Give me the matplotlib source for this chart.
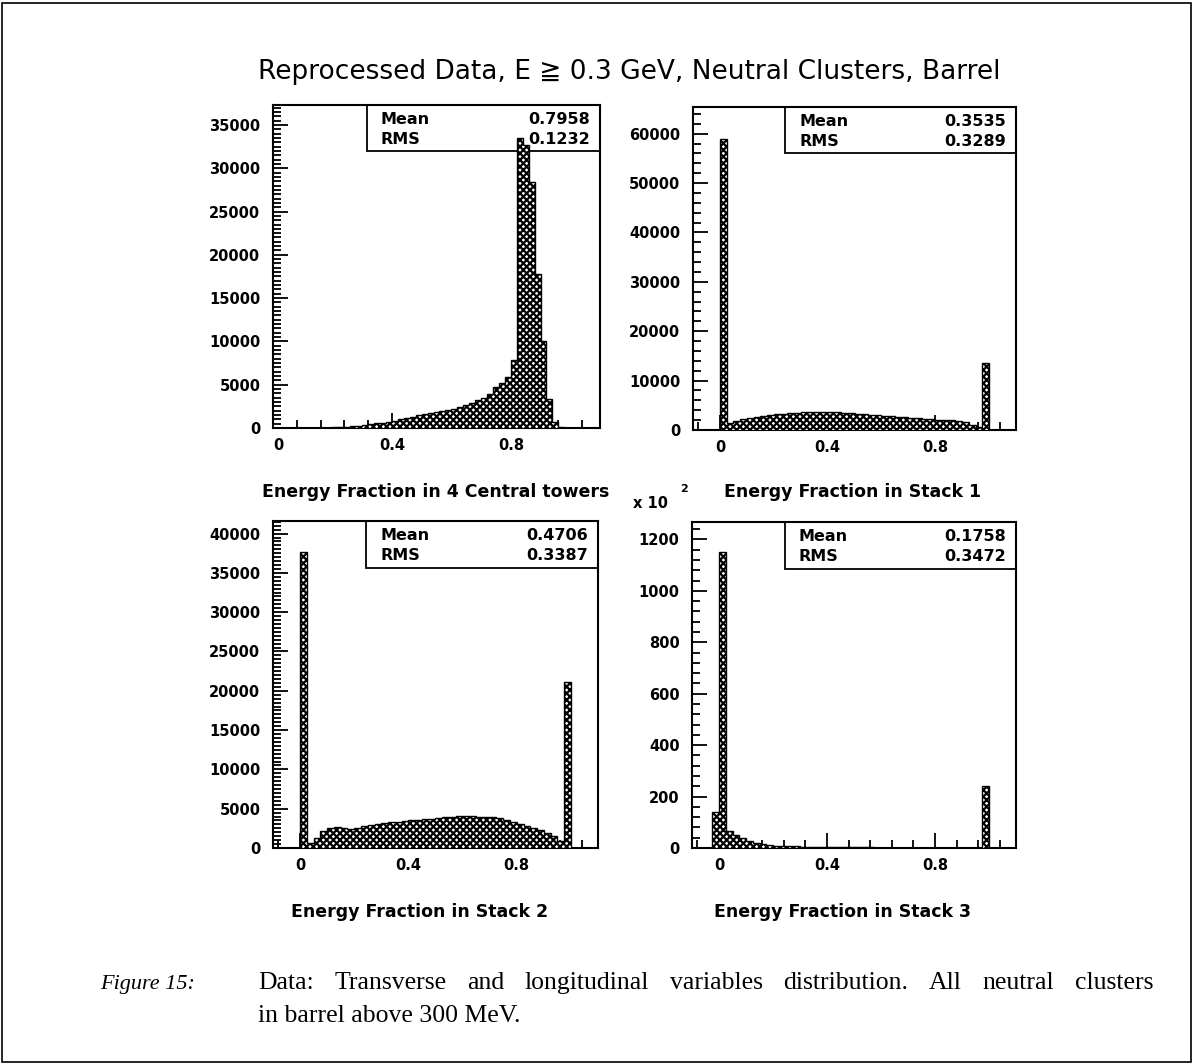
import numpy as np
import matplotlib
matplotlib.use('Agg')
import matplotlib.pyplot as plt
from matplotlib.patches import Rectangle
from matplotlib.ticker import MultipleLocator, FixedLocator, FuncFormatter
from matplotlib.font_manager import FontProperties

# ---- data (bin contents) ----
# panel 1: energy fraction in 4 central towers, 55 bins of 0.02 on [0, 1.1]
towers_counts = [0, 0, 0, 0, 0, 0, 0, 0, 20, 40,
                 60, 90, 140, 200, 280, 350, 430, 520, 620, 720,
                 850, 1000, 1150, 1300, 1450, 1600, 1700, 1800, 1950, 2100,
                 2250, 2450, 2650, 2900, 3200, 3500, 3900, 4700, 5200, 5900,
                 7900, 33500, 32700, 28400, 17800, 10000, 3400, 700, 150, 0,
                 0, 0, 0, 0, 0]

# panels 2-4: 48 bins of 0.025 on [-0.1, 1.1]
stack1_counts = [0, 0, 0, 0,
                 59000, 1500, 1900, 2200, 2500, 2700, 2900, 3050, 3200, 3300,
                 3400, 3500, 3550, 3600, 3650, 3650, 3600, 3550, 3500, 3400,
                 3300, 3200, 3100, 3000, 2900, 2800, 2700, 2600, 2500, 2400,
                 2300, 2200, 2100, 2000, 1950, 1900, 1600, 1100, 700, 13600,
                 0, 0, 0, 0]

stack2_counts = [0, 0, 0, 0,
                 37700, 600, 1300, 2100, 2600, 2650, 2500, 2450, 2600, 2750,
                 2900, 3050, 3150, 3250, 3300, 3400, 3500, 3600, 3700, 3750,
                 3850, 3950, 4000, 4050, 4050, 4050, 4000, 3950, 3900, 3800,
                 3600, 3350, 3100, 2850, 2600, 2300, 1900, 1500, 900, 21100,
                 0, 0, 0, 0]

# stack 3 is drawn in units of 10^2 entries
stack3_counts_x100 = [0, 0, 0, 140,
                      1150, 65, 52, 39, 28, 20, 15, 12, 9, 8,
                      7, 6, 5, 5, 4, 3, 2, 2, 2, 2,
                      2, 2, 2, 1, 1, 1, 1, 1, 1, 1,
                      1, 1, 1, 1, 1, 1, 1, 1, 1, 240,
                      0, 0, 0, 0]

x_titles = ["Energy Fraction in 4 Central towers", "Energy Fraction in Stack 1",
            "Energy Fraction in Stack 2", "Energy Fraction in Stack 3"]
means = ["0.7958", "0.3535", "0.4706", "0.1758"]
rmss = ["0.1232", "0.3289", "0.3387", "0.3472"]

W, H = 1194, 1064
plt.rcParams['hatch.linewidth'] = 1.6
fig = plt.figure(figsize=(W / 100, H / 100), dpi=100)

TICKFONT = dict(family='DejaVu Sans', weight='bold', size=10.5)
STATFONT = dict(family='DejaVu Sans', weight='bold', size=11.5)


def px_axes(x0, y0, x1, y1):
    # axes box given in reference pixel coords (y from top)
    return fig.add_axes([x0 / W, 1 - y1 / H, (x1 - x0) / W, (y1 - y0) / H])


def draw_panel(ax, edges, counts, xlim, ymax, ymajor, yminor, mean, rms):
    ax.stairs(counts, edges, fill=True, facecolor='white', edgecolor='black',
              hatch='xxxxx', linewidth=1.0, zorder=3)
    ax.set_xlim(*xlim)
    ax.set_ylim(0, ymax)
    for s in ax.spines.values():
        s.set_linewidth(1.5)
    ax.xaxis.set_major_locator(FixedLocator([0, 0.4, 0.8]))
    ax.xaxis.set_minor_locator(MultipleLocator(0.08))
    ax.yaxis.set_major_locator(MultipleLocator(ymajor))
    ax.yaxis.set_minor_locator(MultipleLocator(yminor))
    ax.xaxis.set_major_formatter(FuncFormatter(lambda v, p: '0' if abs(v) < 1e-9 else f'{v:.1f}'))
    ax.yaxis.set_major_formatter(FuncFormatter(lambda v, p: f'{v:.0f}'))
    ax.tick_params(which='both', direction='in', top=False, right=False, width=1.3)
    ax.tick_params(which='major', length=10.5)
    ax.tick_params(which='minor', length=5.5)
    ax.tick_params(axis='y', pad=9)
    ax.tick_params(axis='x', pad=7)
    for lab in ax.get_xticklabels() + ax.get_yticklabels():
        lab.set_fontproperties(FontProperties(**TICKFONT))

    # statistics box (outline only, the histogram may poke into it)
    ax.add_patch(Rectangle((0.286, 0.857), 0.714, 0.143, transform=ax.transAxes,
                           fill=False, edgecolor='black', linewidth=1.3,
                           zorder=2, clip_on=False))
    ax.text(0.33, 0.955, "Mean", transform=ax.transAxes, va='center', ha='left',
            zorder=6, **STATFONT)
    ax.text(0.97, 0.955, mean, transform=ax.transAxes, va='center', ha='right',
            zorder=6, **STATFONT)
    ax.text(0.33, 0.893, "RMS", transform=ax.transAxes, va='center', ha='left',
            zorder=6, **STATFONT)
    ax.text(0.97, 0.893, rms, transform=ax.transAxes, va='center', ha='right',
            zorder=6, **STATFONT)


edges_towers = np.linspace(0.0, 1.1, len(towers_counts) + 1)
edges_stack = np.linspace(-0.1, 1.1, len(stack1_counts) + 1)

ax1 = px_axes(273, 105, 600, 428)
draw_panel(ax1, edges_towers, towers_counts, (0, 1.1), 37300, 5000, 500, means[0], rmss[0])
ax1.get_xticklabels()[0].set_ha('left')

ax2 = px_axes(693, 107, 1016, 430)
draw_panel(ax2, edges_stack, stack1_counts, (-0.1, 1.1), 65400, 10000, 2000, means[1], rmss[1])

ax3 = px_axes(273, 521, 598, 848)
draw_panel(ax3, edges_stack, stack2_counts, (-0.1, 1.1), 41600, 5000, 500, means[2], rmss[2])

ax4 = px_axes(692, 522, 1016, 848)
draw_panel(ax4, edges_stack, stack3_counts_x100, (-0.1, 1.1), 1268, 200, 40, means[3], rmss[3])

# multiplier for panel 4
fig.text(633 / W, 1 - 503 / H, "x 10", ha='left', va='center', **TICKFONT)
fig.text(680 / W, 1 - 489 / H, "2", ha='left', va='center', family='DejaVu Sans',
         weight='bold', size=8)

# axis titles
title_font = dict(family='DejaVu Sans', weight='bold', size=12.5)
fig.text(436 / W, 1 - 492 / H, x_titles[0], ha='center', va='center', **title_font)
fig.text(853 / W, 1 - 492 / H, x_titles[1], ha='center', va='center', **title_font)
fig.text(420 / W, 1 - 912 / H, x_titles[2], ha='center', va='center', **title_font)
fig.text(842 / W, 1 - 912 / H, x_titles[3], ha='center', va='center', **title_font)

fig.text(629 / W, 1 - 72 / H, "Reprocessed Data, E \u2267 0.3 GeV, Neutral Clusters, Barrel",
         ha='center', va='center', family='DejaVu Sans', size=19)

# caption: first line is justified between x=258 and x=1153
cap_font = dict(family='Liberation Serif', size=18.5)
fig.text(100 / W, 1 - 989 / H, "Figure 15:", ha='left', va='baseline',
         family='Liberation Serif', style='italic', size=16)
words = "Data: Transverse and longitudinal variables distribution.  All neutral clusters".split()
renderer = fig.canvas.get_renderer()
word_texts = [fig.text(0, 1 - 989 / H, w, ha='left', va='baseline', **cap_font) for w in words]
widths = [t.get_window_extent(renderer).width for t in word_texts]
gap = (1153 - 258 - sum(widths)) / (len(words) - 1)
xpos = 258.0
for t, w in zip(word_texts, widths):
    t.set_x(xpos / W)
    xpos += w + gap
fig.text(258 / W, 1 - 1022 / H, "in barrel above 300 MeV.", ha='left', va='baseline', **cap_font)

# page frame
fig.add_artist(Rectangle((2 / W, 2 / H), 1 - 5 / W, 1 - 5 / H, transform=fig.transFigure,
                         fill=False, edgecolor='black', linewidth=1.2))

fig.savefig('out.png', dpi=100, facecolor='white')
